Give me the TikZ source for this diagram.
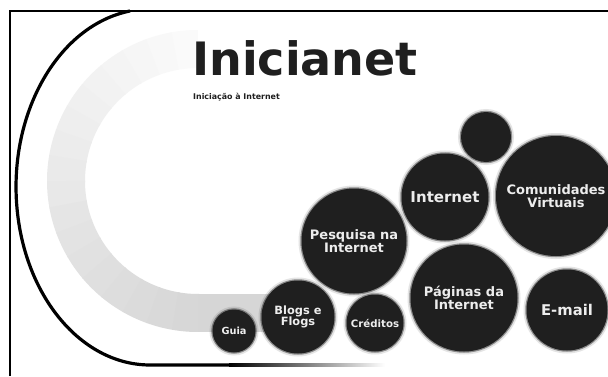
\documentclass[tikz,border=0pt]{standalone}
\usepackage{fontspec}
\setmainfont{DejaVu Sans}

\tikzset{
  bubble/.style={circle, fill=black!88, text=white!93!black, inner sep=0pt, align=center,
    draw=black!88, draw opacity=0.45, line width=2.5pt,
    preaction={draw=black!70, draw opacity=0.15, line width=6pt}},
  lbl/.style={font=\bfseries\fontsize{#1}{#1}\selectfont}
}

\begin{document}
\begin{tikzpicture}[x=1pt,y=1pt]
\useasboundingbox (0,0) rectangle (608,376);
\fill[white] (0,0) rectangle (608,376);

% grey ring behind the bubbles
\foreach \a [evaluate=\a as \g using {2+(\a-90)*0.08}] in {90,100,...,260}
  \draw[line width=38pt, black!\g] (198,195) ++(\a:132) arc[start angle=\a, end angle=\a+10.5, radius=132];
\fill[black!16] (198,44) rectangle (285,82);

% frame and black curve
\draw[line width=2pt] (10,0) -- (10,365) -- (608,365);
\draw[line width=3.2pt] (130,365) arc[x radius=134, y radius=178, start angle=98.6, end angle=270] -- (230,11);
\shade[left color=black, right color=white] (229,9.4) rectangle (385,12.6);

\node[anchor=base west, inner sep=0pt, text=black!88, lbl=46] (title) at (192,301) {Inicianet};
\node[anchor=base west, inner sep=0pt, text=black!88, lbl=7.9] (subtitle) at (193,277) {Iniciação à Internet};

% bubbles
\node[bubble, minimum size=50pt] (dot) at (486,239) {};
\node[bubble, minimum size=120pt, lbl=13] (comunidades) at (556,180) {Comunidades\\Virtuais};
\node[bubble, minimum size=87pt, lbl=15] (internet) at (445,179) {Internet};
\node[bubble, minimum size=105pt, lbl=13] (pesquisa) at (354,135) {Pesquisa na\\Internet};
\node[bubble, minimum size=107pt, lbl=13] (paginas) at (464,78) {Páginas da\\Internet};
\node[bubble, minimum size=81pt, lbl=14.8] (email) at (567,66) {E-mail};
\node[bubble, minimum size=57pt, lbl=10.2] (creditos) at (375,53) {Créditos};
\node[bubble, minimum size=73pt, lbl=11.4] (blogs) at (298,59) {Blogs e\\Flogs};
\node[bubble, minimum size=43pt, lbl=9.8] (guia) at (234,45) {Guia};

\end{tikzpicture}
\end{document}
